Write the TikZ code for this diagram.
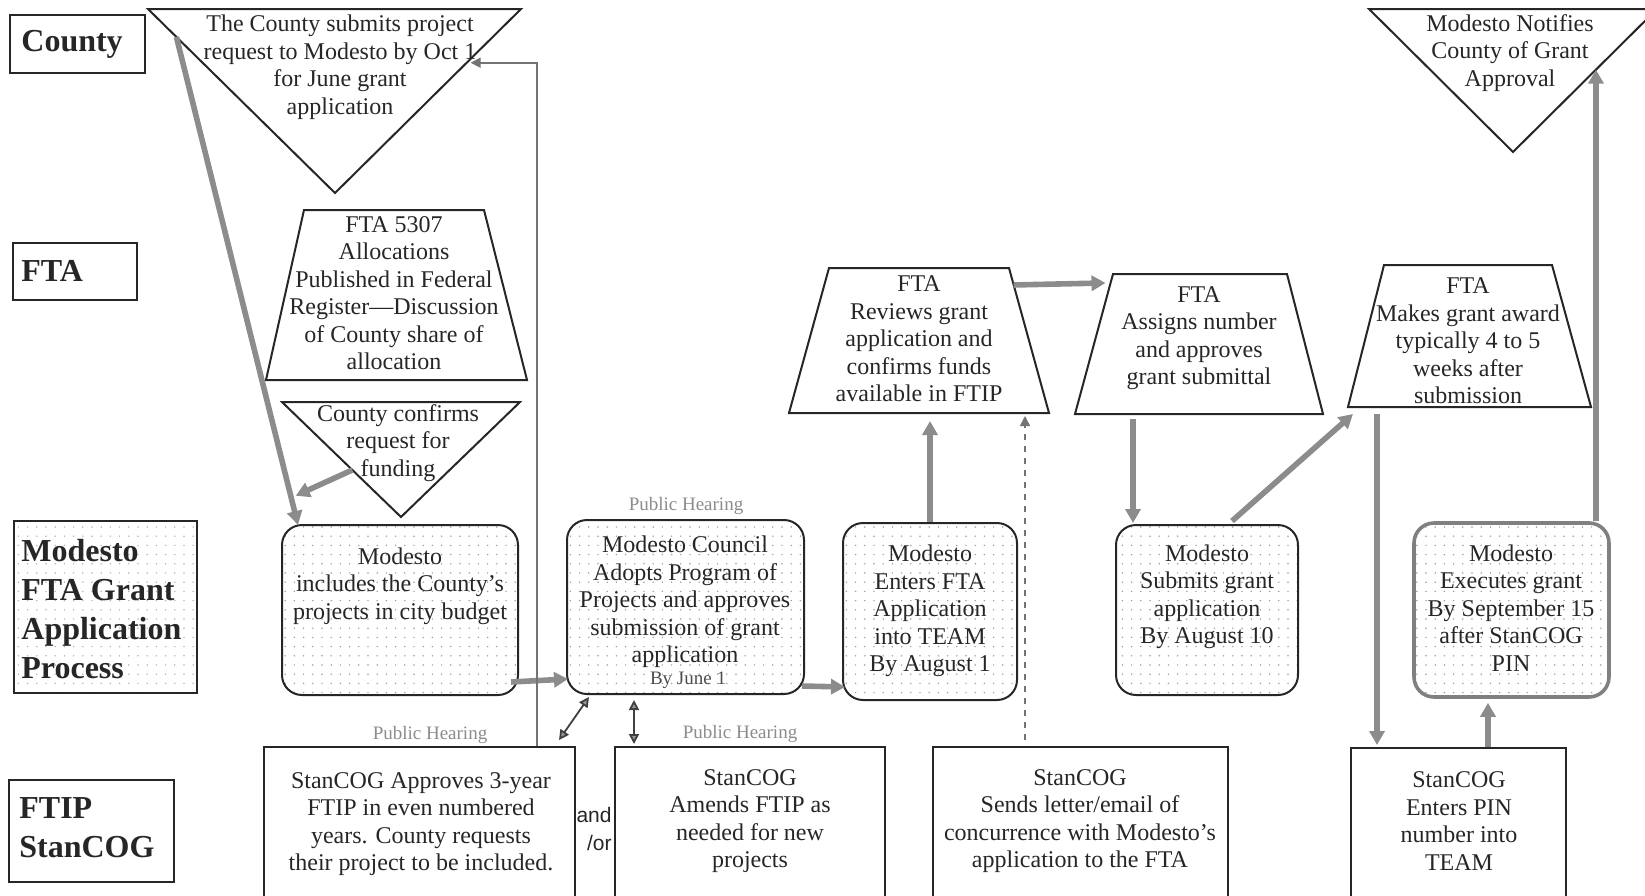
\documentclass[tikz,border=0pt]{standalone}
\usepackage{fontspec}
\setmainfont{Liberation Serif}
\newfontfamily\arialfont{Liberation Sans}
\usetikzlibrary{arrows.meta,patterns,patterns.meta,fit,calc}

% sparse stipple used inside the Modesto boxes
\tikzdeclarepattern{
  name=sparsedots,
  type=uncolored,
  bottom left={(-1pt,-1pt)},
  top right={(1pt,1pt)},
  tile size={(4.6pt,4.6pt)},
  code={\fill (0pt,0pt) circle (0.42pt);}
}

\tikzset{
  lanebox/.style={draw=black!85, line width=1pt, inner sep=0pt},
  lanetext/.style={font=\fontsize{16}{19.5}\selectfont\bfseries, align=left, anchor=west, text=black!85, inner sep=0pt},
  modbox/.style={draw=black!85, line width=1pt, rounded corners=10pt, pattern=sparsedots, pattern color=black!38, inner sep=0pt},
  cogbox/.style={draw=black!85, line width=1pt, inner sep=0pt},
  outline/.style={draw=black!85, line width=1pt, line join=miter},
  txt/.style={font=\fontsize{12}{13.75}\selectfont, align=center, text=black!85, inner sep=0pt},
  smalltxt/.style={font=\fontsize{9.5}{11}\selectfont, text=black!70, inner sep=0pt},
  hearing/.style={font=\fontsize{9.5}{11}\selectfont, text=black!45, inner sep=0pt},
  bigarrow/.style={draw=black!45, line width=2.8pt, -{Triangle[length=7pt,width=7.5pt]}},
  feedline/.style={draw=black!55, line width=0.9pt, -{Triangle[length=5pt,width=5pt]}},
  dashline/.style={draw=black!55, line width=0.8pt, dash pattern=on 3pt off 3pt, -{Triangle[length=5pt,width=5pt]}},
  twoway/.style={draw=black!75, line width=0.9pt, {Triangle[length=5pt,width=5pt,fill=black!40]}-{Triangle[length=5pt,width=5pt,fill=black!40]}},
}

\begin{document}
\begin{tikzpicture}[x=0.5pt,y=-0.5pt]
\path[use as bounding box] (0,0) rectangle (1645,895);
\clip (0,0) rectangle (1645,895);

% ---------- lane labels ----------
\node[lanebox, fit={(10,15)(145,73)}] (lnCounty) {};
\node[lanetext] (lnCountyT) at (21,44) {County};
\node[lanebox, fit={(12.5,243)(137,300)}] (lnFta) {};
\node[lanetext] (lnFtaT) at (21,271) {FTA};
\node[lanebox, pattern=sparsedots, pattern color=black!30, fit={(13.5,521)(197,693)}] (lnMod) {};
\node[lanetext] (lnModT) at (21,609) {Modesto\\FTA Grant\\Application\\Process};
\node[lanebox, fit={(9,780)(174,882)}] (lnCog) {};
\node[lanetext] (lnCogT) at (19,828) {FTIP\\StanCOG};

% ---------- County row ----------
\coordinate (t1a) at (148,9);
\coordinate (t1b) at (521,9);
\coordinate (t1c) at (335,193);
\draw[outline] (t1a) -- (t1b) -- (t1c) -- cycle;
\node[txt] (submit) at (340,67) {The County submits project\\request to Modesto by Oct 1\\for June grant\\application};

\coordinate (n1) at (1369,9);
\coordinate (n2) at (1657,9);
\coordinate (n3) at (1513,152);
\draw[outline] (n1) -- (n2) -- (n3) -- cycle;
\node[txt] (notify) at (1510,53) {Modesto Notifies\\County of Grant\\Approval};

% ---------- FTA row ----------
\coordinate (f1) at (304,210);
\coordinate (f2) at (484,210);
\coordinate (f3) at (527,380);
\coordinate (f4) at (266,380);
\draw[outline] (f1) -- (f2) -- (f3) -- (f4) -- cycle;
\node[txt] (alloc) at (394,293) {FTA 5307\\Allocations\\Published in Federal\\Register---Discussion\\of County share of\\allocation};

\coordinate (t3a) at (282,402);
\coordinate (t3b) at (520,402);
\coordinate (t3c) at (401,517);
\draw[outline] (t3a) -- (t3b) -- (t3c) -- cycle;
\node[txt] (confirm) at (398,443) {County confirms\\request for\\funding};

\coordinate (r1) at (829,268);
\coordinate (r2) at (1009,268);
\coordinate (r3) at (1049,413);
\coordinate (r4) at (789,413);
\draw[outline] (r1) -- (r2) -- (r3) -- (r4) -- cycle;
\node[txt] (review) at (919,339) {FTA\\Reviews grant\\application and\\confirms funds\\available in FTIP};

\coordinate (a1) at (1113,274);
\coordinate (a2) at (1287,274);
\coordinate (a3) at (1323,414);
\coordinate (a4) at (1075,414);
\draw[outline] (a1) -- (a2) -- (a3) -- (a4) -- cycle;
\node[txt] (assign) at (1199,338) {FTA\\Assigns number\\and approves\\grant submittal};

\coordinate (m1) at (1384,265);
\coordinate (m2) at (1552,265);
\coordinate (m3) at (1591,407);
\coordinate (m4) at (1348,407);
\draw[outline] (m1) -- (m2) -- (m3) -- (m4) -- cycle;
\node[txt] (award) at (1468,341) {FTA\\Makes grant award\\typically 4 to 5\\weeks after\\submission};

% ---------- Modesto row ----------
\node[modbox, fit={(282,525)(518,695)}] (inc) {};
\node[txt] (incT) at (400,586) {Modesto\\includes the County’s\\projects in city budget};

\node[hearing] (ph1) at (686,506) {Public Hearing};
\node[modbox, fit={(567,520)(804,694)}] (cnc) {};
\node[txt] (cncT) at (685,602) {Modesto Council\\Adopts Program of\\Projects and approves\\submission of grant\\application};
\node[smalltxt] (cncBy) at (688,680) {By June 1};

\node[modbox, fit={(843,523)(1017,700)}] (ent) {};
\node[txt] (entT) at (930,611) {Modesto\\Enters FTA\\Application\\into TEAM\\By August 1};

\node[modbox, fit={(1116,525)(1298,695)}] (sub) {};
\node[txt] (subT) at (1207,597) {Modesto\\Submits grant\\application\\By August 10};

\node[modbox, draw=black!50, line width=1.8pt, fit={(1414,523)(1609,697)}] (exe) {};
\node[txt] (exeT) at (1511,608) {Modesto\\Executes grant\\By September 15\\after StanCOG\\PIN};

% ---------- FTIP / StanCOG row ----------
\node[hearing] (ph2) at (430,735) {Public Hearing};
\node[cogbox, fit={(263.5,747)(575,899)}] (app) {};
\node[txt] (appT) at (421,824) {StanCOG Approves 3-year\\FTIP in even numbered\\years. County requests\\their project to be included.};

\node[font=\arialfont\fontsize{10.5}{14}\selectfont, align=right, anchor=east, text=black!85, inner sep=0pt] (andor) at (612,829) {and\\/or};

\node[hearing] (ph3) at (740,734) {Public Hearing};
\node[cogbox, fit={(615,747)(885,899)}] (amd) {};
\node[txt] (amdT) at (750,821) {StanCOG\\Amends FTIP as\\needed for new\\projects};

\node[cogbox, fit={(933,747)(1228,899)}] (snd) {};
\node[txt] (sndT) at (1080,821) {StanCOG\\Sends letter/email of\\concurrence with Modesto’s\\application to the FTA};

\node[cogbox, fit={(1351,748)(1566,899)}] (pin) {};
\node[txt] (pinT) at (1459,821) {StanCOG\\Enters PIN\\number into\\TEAM};

% ---------- connectors ----------
% county request down to the city budget
\coordinate (reqS) at ($(t1a)!0.152!(t1c)$);
\coordinate (reqE) at ($(inc.north west)+(17,1)$);
\draw[bigarrow] (reqS) -- (reqE);
% county confirmation onto that path
\coordinate (cfS) at ($(t3a)!0.591!(t3c)$);
\coordinate (cfE) at ($(reqS)!0.94!(reqE)+(5,0)$);
\draw[bigarrow] (cfS) -- (cfE);
% budget to council
\draw[bigarrow] ($(inc.south east)+(-8,-14)$) -- ($(cnc.south west)+(2,-16)$);
% council to TEAM entry
\draw[bigarrow] ($(cnc.south east)+(-3,-9)$) -- ($(ent.south west)+(3,-14)$);
% TEAM entry up to FTA review
\draw[bigarrow] (ent.north) -- ($(ent.north |- r4)+(0,8)$);
% review to number assignment
\coordinate (raS) at ($(r2)!0.117!(r3)$);
\coordinate (raE) at ($(a1)!0.064!(a4)+(-5,0)$);
\draw[bigarrow] (raS) -- (raE);
% number assignment down to submission
\draw[bigarrow] ($(sub.north west |- a4)+(18,5)$) -- ($(sub.north west)+(18,-1)$);
% submission up to award
\draw[bigarrow] ($(sub.north west)+(117,-3)$) -- ($(m4)+(5,7)$);
% award down to PIN entry
\draw[bigarrow] ($(pin.north west |- m4)+(27,7)$) -- ($(pin.north west)+(27,-2)$);
% PIN entry up to execution
\draw[bigarrow] ($(pin.north west)+(138,0)$) -- ($(pin.north west |- exe.south)+(138,4)$);
% execution up to notification
\coordinate (ntTip) at ($(n3)!0.576!(n2)$);
\draw[bigarrow] (ntTip |- exe.north) -- (ntTip);

% FTIP approval back to the county request
\coordinate (fbS) at ($(app.north west)+(274.5,0)$);
\coordinate (fbE) at ($(t1b)!0.292!(t1c)+(4,0)$);
\draw[feedline] (fbS) |- (fbE);

% StanCOG concurrence to FTA review
\draw[dashline] ($(snd.north west)+(93,-6)$) -- ($(snd.north west |- r3)+(93,3)$);

% council and FTIP exchanges
\draw[twoway] ($(cnc.south west)+(23,2)$) -- ($(app.north east)+(-17,-6)$);
\draw[twoway] ($(amd.north west |- cnc.south)+(20,5)$) -- ($(amd.north west)+(20,-2)$);

\end{tikzpicture}
\end{document}
